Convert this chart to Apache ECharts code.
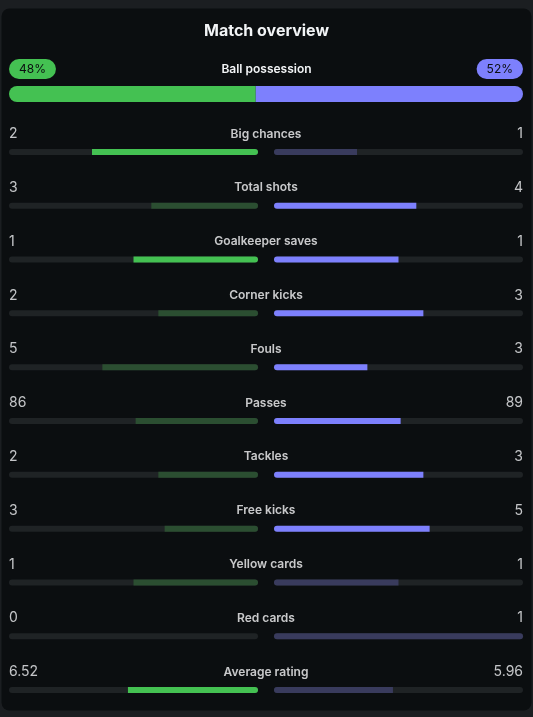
<!DOCTYPE html>
<html>
<head>
<meta charset="utf-8">
<script src="https://cdn.jsdelivr.net/npm/echarts@6/dist/echarts.min.js"></script>
<style>
  html, body { margin: 0; padding: 0; background: #1b1e21; }
  #chart { width: 533px; height: 717px; }
</style>
</head>
<body>
<div id="chart"></div>
<script>
// possession
const possessionLabel = 'Ball possession';
const possessionHome = 48;
const possessionAway = 52;

// stat rows, top to bottom
const statNames = ['Big chances', 'Total shots', 'Goalkeeper saves', 'Corner kicks', 'Fouls',
  'Passes', 'Tackles', 'Free kicks', 'Yellow cards', 'Red cards', 'Average rating'];
const homeValues = [2, 3, 1, 2, 5, 86, 2, 3, 1, 0, 6.52];
const awayValues = [1, 4, 1, 3, 3, 89, 3, 5, 1, 1, 5.96];
const lowerIsBetter = [false, false, false, false, true, false, false, false, true, true, false];

const GREEN = '#44c152', GREEN_DIM = '#2b4e31';
const PURPLE = '#7d80fd', PURPLE_DIM = '#393b5d';
const TRACK = '#1f2325';
const FONT = 'Inter, "Noto Sans", sans-serif';

// bright = team doing better (ties: both bright if higher is better, both dim otherwise)
function homeBright(i) {
  return lowerIsBetter[i] ? homeValues[i] < awayValues[i] : homeValues[i] >= awayValues[i];
}
function awayBright(i) {
  return lowerIsBetter[i] ? awayValues[i] < homeValues[i] : awayValues[i] >= homeValues[i];
}

function share(a, b) {
  const t = a + b;
  return t ? a / t : 0;
}

const homeShare = statNames.map((n, i) => {
  const v = share(homeValues[i], awayValues[i]);
  return {
    value: v,
    itemStyle: {
      color: homeBright(i) ? GREEN : GREEN_DIM,
      borderRadius: v >= 1 ? 3 : [0, 3, 3, 0]
    }
  };
});
const awayShare = statNames.map((n, i) => {
  const v = share(awayValues[i], homeValues[i]);
  return {
    value: v,
    itemStyle: {
      color: awayBright(i) ? PURPLE : PURPLE_DIM,
      borderRadius: v >= 1 ? 3 : [3, 0, 0, 3]
    }
  };
});

const chart = echarts.init(document.getElementById('chart'));

const rowTop = 125, rowHeight = 54 * statNames.length;
const catAxis = (idx) => ({
  type: 'category', gridIndex: idx, data: statNames, inverse: true, show: false
});

const option = {
  backgroundColor: '#1b1e21',
  animation: false,
  graphic: [{
    type: 'rect', z: -10, silent: true,
    shape: { x: 1.5, y: 8.5, width: 530, height: 702, r: 8 },
    style: { fill: '#0b0e10' }
  }],
  title: [
    {
      text: 'Match overview', left: 'center', top: 21, padding: 0,
      textStyle: { color: '#f2f4f6', fontFamily: FONT, fontSize: 16, fontWeight: 700, lineHeight: 20 }
    },
    {
      text: possessionLabel, left: 'center', top: 61, padding: 0,
      textStyle: { color: '#f2f4f6', fontFamily: FONT, fontSize: 12, fontWeight: 600, lineHeight: 16 }
    }
  ],
  grid: [
    { left: 9, width: 514, top: 86, height: 16 },           // possession
    { left: 9, width: 249, top: rowTop, height: rowHeight }, // home bars
    { left: 274, width: 249, top: rowTop, height: rowHeight }, // away bars
    { left: 9, width: 514, top: rowTop, height: rowHeight }  // text
  ],
  xAxis: [
    { type: 'value', gridIndex: 0, min: 0, max: possessionHome + possessionAway, show: false },
    { type: 'value', gridIndex: 1, min: 0, max: 1, inverse: true, show: false },
    { type: 'value', gridIndex: 2, min: 0, max: 1, show: false },
    { type: 'value', gridIndex: 3, min: 0, max: 1, show: false }
  ],
  yAxis: [
    { type: 'category', gridIndex: 0, data: [possessionLabel], show: false },
    catAxis(1), catAxis(2), catAxis(3)
  ],
  series: [
    {
      type: 'bar', xAxisIndex: 0, yAxisIndex: 0, stack: 'pos', barWidth: 16,
      data: [possessionHome],
      itemStyle: { color: GREEN, borderRadius: [8, 0, 0, 8] },
      label: {
        show: true, position: 'insideLeft', distance: 0, offset: [0, -25],
        formatter: '{c}%', color: '#0b0e10', fontFamily: FONT, fontSize: 12,
        backgroundColor: GREEN, borderRadius: 10, padding: [3, 10], lineHeight: 14
      }
    },
    {
      type: 'bar', xAxisIndex: 0, yAxisIndex: 0, stack: 'pos', barWidth: 16,
      data: [possessionAway],
      itemStyle: { color: PURPLE, borderRadius: [0, 8, 8, 0] },
      label: {
        show: true, position: 'insideRight', distance: 0, offset: [0, -25],
        formatter: '{c}%', color: '#0b0e10', fontFamily: FONT, fontSize: 12,
        backgroundColor: PURPLE, borderRadius: 10, padding: [3, 10], lineHeight: 14
      }
    },
    {
      type: 'bar', xAxisIndex: 1, yAxisIndex: 1, barWidth: 6, data: homeShare,
      showBackground: true, backgroundStyle: { color: TRACK, borderRadius: 3 }
    },
    {
      type: 'bar', xAxisIndex: 2, yAxisIndex: 2, barWidth: 6, data: awayShare,
      showBackground: true, backgroundStyle: { color: TRACK, borderRadius: 3 }
    },
    {
      type: 'scatter', xAxisIndex: 3, yAxisIndex: 3, symbolSize: 0,
      data: homeValues.map((v, i) => [0, i, v]),
      label: {
        show: true, position: 'inside', align: 'left', offset: [0, -18],
        formatter: (p) => String(p.value[2]),
        color: '#f2f4f6', fontFamily: FONT, fontSize: 14
      }
    },
    {
      type: 'scatter', xAxisIndex: 3, yAxisIndex: 3, symbolSize: 0,
      data: statNames.map((n, i) => [0.5, i, n]),
      label: {
        show: true, position: 'inside', align: 'center', offset: [0, -18],
        formatter: (p) => p.value[2],
        color: '#f7f8f9', fontFamily: FONT, fontSize: 12, fontWeight: 600
      }
    },
    {
      type: 'scatter', xAxisIndex: 3, yAxisIndex: 3, symbolSize: 0,
      data: awayValues.map((v, i) => [1, i, v]),
      label: {
        show: true, position: 'inside', align: 'right', offset: [0, -18],
        formatter: (p) => String(p.value[2]),
        color: '#f2f4f6', fontFamily: FONT, fontSize: 14
      }
    }
  ]
};

chart.setOption(option);
</script>
</body>
</html>
